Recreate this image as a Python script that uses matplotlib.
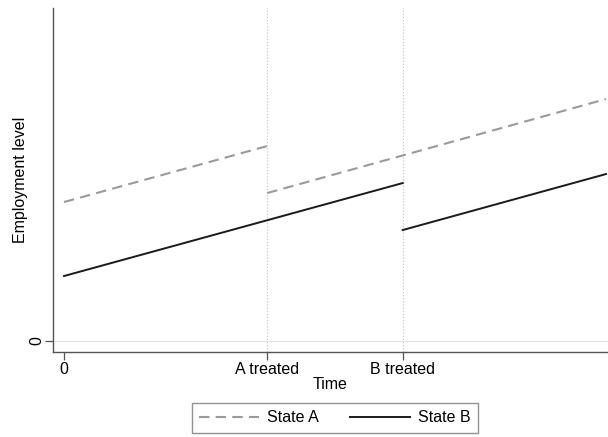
import matplotlib.pyplot as plt
from matplotlib.lines import Line2D

plt.rcParams['font.family'] = ['Liberation Sans', 'DejaVu Sans']

# time points and employment levels (segments split at treatment dates)
t_a1 = [0, 15]
y_a1 = [13.9, 19.5]
t_a2 = [15, 40]
y_a2 = [14.8, 24.2]

t_b1 = [0, 25]
y_b1 = [6.5, 15.8]
t_b2 = [25, 40]
y_b2 = [11.1, 16.7]

treat_times = [15, 25]
xtick_pos = [0, 15, 25]
xtick_labels = ["0", "A treated", "B treated"]

fig = plt.figure(figsize=(6.08, 4.37), dpi=100)
ax = fig.add_axes([0.0872, 0.1945, 0.9128, 0.787])

for t in treat_times:
    ax.axvline(t, color="#c8c8c8", lw=0.9, ls=(0, (1, 1.5)), zorder=1)
ax.axhline(0, color="#e4e4e4", lw=0.9, zorder=1)

dash = (0, (5, 3))
ax.plot(t_a1, y_a1, color="#9a9a9a", lw=1.5, ls=dash, zorder=3)
ax.plot(t_a2, y_a2, color="#9a9a9a", lw=1.5, ls=dash, zorder=3)
ax.plot(t_b1, y_b1, color="#1a1a1a", lw=1.4, zorder=3)
ax.plot(t_b2, y_b2, color="#1a1a1a", lw=1.4, zorder=3)

ax.set_xlim(-0.81, 40.15)
ax.set_ylim(-1.1, 33.3)

ax.set_xticks(xtick_pos)
ax.set_xticklabels(xtick_labels, fontsize=11.5)
ax.set_yticks([0])
ax.set_yticklabels(["0"], rotation=90, va="center", fontsize=11.5)
ax.tick_params(axis="both", length=6, width=0.9, color="#555555")
ax.tick_params(axis="x", pad=1)
ax.tick_params(axis="y", pad=0)

ax.set_xlabel("Time", fontsize=11.5, labelpad=0)
ax.set_ylabel("Employment level", fontsize=11.5, labelpad=1)

for s in ["top", "right"]:
    ax.spines[s].set_visible(False)
for s in ["left", "bottom"]:
    ax.spines[s].set_color("#555555")
    ax.spines[s].set_linewidth(1.0)

handles = [
    Line2D([], [], color="#9a9a9a", lw=1.5, ls=dash),
    Line2D([], [], color="#1a1a1a", lw=1.4),
]
leg = fig.legend(handles, ["State A", "State B"], loc="center",
                 bbox_to_anchor=(0.551, 0.0435), ncol=2, fontsize=11.5,
                 frameon=True, fancybox=False, handlelength=3.75,
                 handletextpad=0.5, columnspacing=1.95, borderpad=0.45)
leg.get_frame().set_edgecolor("#777777")
leg.get_frame().set_linewidth(1.0)

fig.savefig("out.png", dpi=100)
